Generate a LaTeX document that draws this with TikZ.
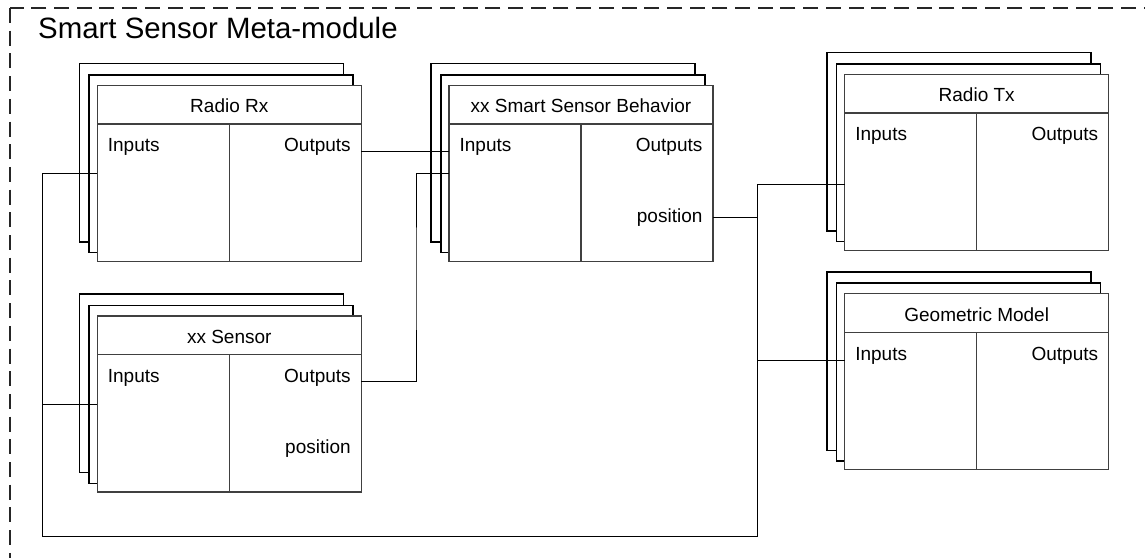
\documentclass[tikz,border=0pt]{standalone}
\usepackage{fontspec}
\setmainfont{Liberation Sans}
\tikzset{
  backbox/.style={draw=black, line width=1.6pt, fill=white},
  frontbox/.style={draw=black!75, line width=1.2pt, fill=white, minimum width=264pt, minimum height=176pt, inner sep=0pt, outer sep=0pt, anchor=north west},
  divider/.style={draw=black!75, line width=1.2pt},
  lbl/.style={font=\fontsize{19}{22}\selectfont, inner sep=0pt},
  bigtitle/.style={font=\fontsize{29.4}{34}\selectfont, inner sep=0pt, anchor=base west},
  wire/.style={draw=black, line width=1pt},
  frame/.style={draw=black!85, line width=1.3pt, dash pattern=on 15pt off 7.7pt},
}
\newcommand\stackbox[4]{%
  \draw[backbox] (#2-18,#3-22) rectangle (#2+246,#3+156.6);
  \draw[backbox] (#2-8.3,#3-10.6) rectangle (#2+255.7,#3+167.3);
  \node[frontbox] (#1) at (#2,#3) {};
  \draw[divider] ([yshift=-38.7pt]#1.north west) -- ([yshift=-38.7pt]#1.north east);
  \draw[divider] ([yshift=-38.7pt]#1.north) -- (#1.south);
  \node[lbl, anchor=base] (#1title) at ([yshift=-27.6pt]#1.north) {#4};
  \node[lbl, anchor=base west] (#1in) at ([xshift=10.4pt, yshift=-66.4pt]#1.north west) {Inputs};
  \node[lbl, anchor=base east] (#1out) at ([xshift=-10.4pt, yshift=-66.4pt]#1.north east) {Outputs};
}
\begin{document}
\begin{tikzpicture}[x=1pt, y=-1pt]
  \useasboundingbox (0,0) rectangle (1145,557);
  \begin{scope}
    \clip (0,0) rectangle (1145,557);
    \draw[frame] (10,8) rectangle (1170,580);
  \end{scope}
  \node[bigtitle] (maintitle) at (38,38.3) {Smart Sensor Meta-module};

  \stackbox{rx}{97.3}{85.3}{Radio Rx}
  \stackbox{sen}{97.3}{316}{xx Sensor}
  \stackbox{ssb}{449}{85.3}{xx Smart Sensor Behavior}
  \stackbox{tx}{844.7}{74.3}{Radio Tx}
  \stackbox{gm}{844.7}{293.7}{Geometric Model}

  \node[lbl, anchor=base east] (senpos) at ([xshift=-10.4pt, yshift=-137.5pt]sen.north east) {position};
  \node[lbl, anchor=base east] (ssbpos) at ([xshift=-10.4pt, yshift=-137.5pt]ssb.north east) {position};

  \coordinate (ja) at (416,280);
  \coordinate (jb) at (757.3,536);
  \coordinate (jc) at (42.7,536);

  \draw[wire] ([yshift=-65.7pt]rx.north east) -- ([yshift=-65.7pt]ssb.north west);
  \draw[wire] ([yshift=-65.7pt]sen.north east) -| (ja) |- ([yshift=-88pt]ssb.north west);
  \draw[wire] ([yshift=-132pt]ssb.north east) -| (jb);
  \draw[wire] ([yshift=-110pt]tx.north west) -| (jb) -- (jc) |- ([yshift=-88pt]rx.north west);
  \draw[wire] ([yshift=-66.3pt]gm.north west) -| (jb);
  \draw[wire] ([yshift=-88.3pt]sen.north west) -| (jc);
\end{tikzpicture}
\end{document}
